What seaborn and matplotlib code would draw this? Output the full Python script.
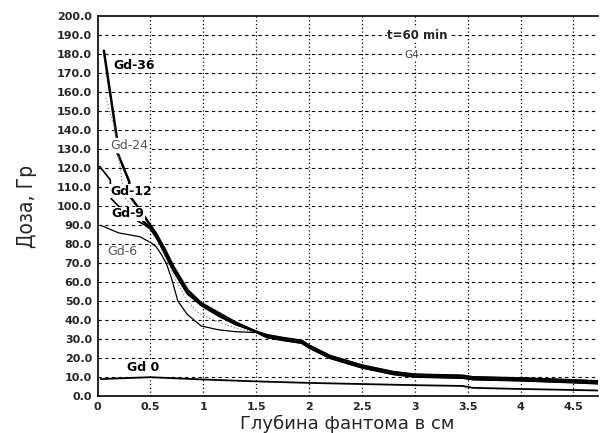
import matplotlib
matplotlib.use('Agg')
import matplotlib.pyplot as plt
import seaborn as sns
import pandas as pd
import numpy as np

# depth in cm / dose in Gy
tail_x = [1.6, 1.75, 1.93, 2.0, 2.2, 2.5, 2.8, 3.0, 3.45, 3.55, 4.0, 4.5, 4.75]
tail_y = [32.0, 30.5, 29.0, 26.5, 21.0, 16.0, 12.5, 11.2, 10.6, 9.8, 9.2, 8.2, 7.6]

gd36_x = [0.06, 0.18, 0.19, 0.3, 0.31, 0.39, 0.5, 0.55, 0.63, 0.72, 0.85, 0.98, 1.14, 1.3, 1.5] + tail_x
gd36_y = [182, 137, 128, 113, 105, 99, 90, 86, 78, 68, 56, 49, 44, 39, 34] + tail_y

gd24_x = [0.08, 0.16, 0.22, 0.25, 0.33, 0.5, 0.55, 0.65, 0.75, 0.85, 0.95, 1.1, 1.3, 1.5] + tail_x
gd24_y = [157, 141, 118, 105, 100, 89, 84, 72, 60, 50, 44, 40, 36, 33.5] + [v - 0.5 for v in tail_y]

gd12_x = [0.02, 0.12, 0.13, 0.2, 0.3, 0.45, 0.5, 0.56, 0.64, 0.73, 0.86, 1.0, 1.15, 1.3, 1.5] + tail_x
gd12_y = [121, 114, 104, 100, 95, 90, 88, 83, 75, 65, 54, 47, 42, 38, 34] + [v + 0.4 for v in tail_y]

gd9_x = [0.43, 0.5, 0.56, 0.63, 0.72, 0.85, 0.98, 1.14, 1.3, 1.5] + tail_x
gd9_y = [92, 89, 84, 76, 66, 54, 48, 43, 38, 34] + [v - 0.8 for v in tail_y]

gd6_x = [0.03, 0.2, 0.4, 0.5, 0.55, 0.6, 0.65, 0.7, 0.76, 0.85, 0.98, 1.14, 1.3, 1.5] + tail_x
gd6_y = [90, 86, 84, 81, 79, 75, 70, 62, 50, 43, 37, 35, 34, 33.5] + [v - 1.2 for v in tail_y]

gd0_x = [0.03, 0.25, 0.5, 1.0, 1.5, 2.0, 2.5, 3.0, 3.45, 3.55, 4.0, 4.75]
gd0_y = [9.0, 9.5, 10.0, 8.8, 7.8, 7.0, 6.4, 5.8, 5.4, 4.4, 3.8, 3.0]

labels = ['Gd-36', 'Gd-24', 'Gd-12', 'Gd-9', 'Gd-6', 'Gd 0']
label_x = [0.15, 0.12, 0.12, 0.13, 0.09, 0.28]
label_y = [174, 132, 108, 96, 76, 15]

x_ticks = [0, 0.5, 1, 1.5, 2, 2.5, 3, 3.5, 4, 4.5]
x_ticklabels = ['0', '0.5', '1', '1.5', '2', '2.5', '3', '3.5', '4', '4.5']
y_ticks = list(range(0, 201, 10))

sns.set_style('white')
plt.rcParams['font.family'] = ['DejaVu Sans']

fig = plt.figure(figsize=(6.02, 4.33), dpi=100)
ax = fig.add_axes([0.162, 0.085, 0.831, 0.877])

curves = [
    (gd36_x, gd36_y, 'black', 1.8, '-'),
    (gd24_x, gd24_y, '#888888', 0.9, ':'),
    (gd12_x, gd12_y, 'black', 1.2, '-'),
    (gd9_x, gd9_y, 'black', 1.6, '-'),
    (gd6_x, gd6_y, 'black', 0.9, '-'),
    (gd0_x, gd0_y, 'black', 1.3, '-'),
]
for cx, cy, col, lw, ls in curves:
    df = pd.DataFrame({'depth': cx, 'dose': cy})
    sns.lineplot(data=df, x='depth', y='dose', ax=ax, color=col, lw=lw,
                 linestyle=ls, sort=False, zorder=3)

for lab, lx, ly in zip(labels, label_x, label_y):
    light = lab in ('Gd-24', 'Gd-6')
    ax.text(lx, ly, lab, fontsize=9, fontweight='normal' if light else 'bold',
            color='#555555' if light else 'black', va='center', ha='left', zorder=5,
            bbox=dict(facecolor='white', edgecolor='none', pad=0.5))

ax.text(2.74, 190, 't=60 min', fontsize=8.5, fontweight='bold', va='center', zorder=5,
        bbox=dict(facecolor='white', edgecolor='none', pad=0.5))
ax.text(2.9, 179.5, 'G4', fontsize=7.5, color='#444444', va='center', zorder=5,
        bbox=dict(facecolor='white', edgecolor='none', pad=0.5))

ax.set_xlim(0, 4.73)
ax.set_ylim(0, 200)
ax.set_xticks(x_ticks)
ax.set_xticklabels(x_ticklabels, fontsize=8, fontweight='bold')
ax.set_yticks(y_ticks)
ax.set_yticklabels(['%.1f' % v for v in y_ticks], fontsize=8, fontweight='bold')

ax.grid(False)
for v in x_ticks[1:]:
    ax.axvline(v, color='black', lw=0.9, linestyle=(0, (1, 2)), zorder=1)
for v in y_ticks[1:-1]:
    ax.axhline(v, color='black', lw=0.8, linestyle=(0, (3, 3)), zorder=1)

ax.spines['right'].set_visible(False)
for s in ('left', 'bottom', 'top'):
    ax.spines[s].set_color('black')
    ax.spines[s].set_linewidth(1.2)
ax.tick_params(axis='both', length=3, width=1, color='black', direction='out', pad=1)

ax.set_xlabel('Глубина фантома в см', fontsize=13, labelpad=2)
ax.set_ylabel('Доза, Гр', fontsize=15, family='DejaVu Sans', stretch='condensed',
              labelpad=14)

fig.savefig('out.png', dpi=100)
